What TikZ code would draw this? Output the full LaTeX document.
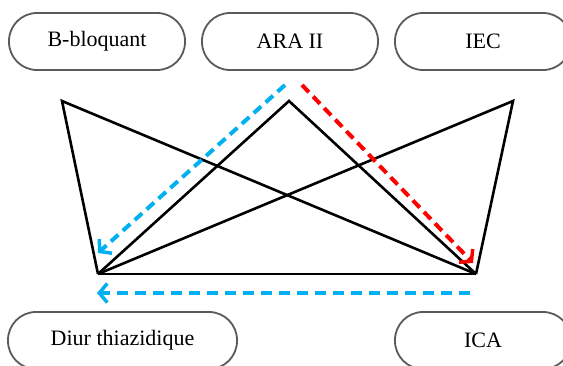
\documentclass[tikz,border=0pt]{standalone}
\usepackage{fontspec}
\setmainfont{Liberation Serif}
\usetikzlibrary{arrows.meta}
\definecolor{flowblue}{RGB}{0,176,240}
\definecolor{flowred}{RGB}{255,0,0}
\definecolor{boxgray}{RGB}{90,90,90}
\begin{document}
\begin{tikzpicture}[x=1pt,y=-1pt,
  drug/.style={draw=boxgray, line width=1.8pt, rounded corners=28pt,
    minimum width=176pt, minimum height=57pt, inner sep=0pt,
    font=\fontsize{22}{25}\selectfont},
  edge/.style={line width=2.6pt, black, line join=miter},
  flow/.style={line width=4pt, dash pattern=on 10pt off 6pt,
    -{Straight Barb[length=8pt,width=19pt,line width=3.5pt]}}]
  % canvas
  \fill[white] (0,0) rectangle (563,365);
  \useasboundingbox (0,0) rectangle (563,365);

  % drug classes
  \node[drug] (bb)  at (97,41.5)   {B-bloquant};
  \node[drug] (ara) at (290,41.5)  {ARA II};
  \node[drug] (iec) at (483,41.5)  {IEC};
  \node[drug, minimum width=229pt] (diu) at (122.5,340.5) {Diur thiazidique};
  \node[drug] (ica) at (483,340.5) {ICA};

  % vertices of the association figure
  \coordinate (v1) at (62,101);
  \coordinate (v2) at (289,101);
  \coordinate (v3) at (513,101);
  \coordinate (v4) at (98,274);
  \coordinate (v5) at (476,274);

  \draw[edge] (v4) -- (v1) -- (v5);
  \draw[edge] (v4) -- (v2) -- (v5);
  \draw[edge] (v4) -- (v3) -- (v5);
  \draw[edge] (v4) -- (v5);

  % arrows
  \coordinate (b1s) at (285,85);
  \coordinate (b1e) at (98,253);
  \coordinate (rs)  at (302,85);
  \coordinate (re)  at (473,263);
  \coordinate (b2s) at (470,293);
  \coordinate (b2e) at (97,293);
  \draw[flow, flowblue] (b1s) -- (b1e);
  \draw[flow, flowred]  (rs) -- (re);
  \draw[flow, flowblue, dash pattern=on 11pt off 7pt] (b2s) -- (b2e);
\end{tikzpicture}
\end{document}
